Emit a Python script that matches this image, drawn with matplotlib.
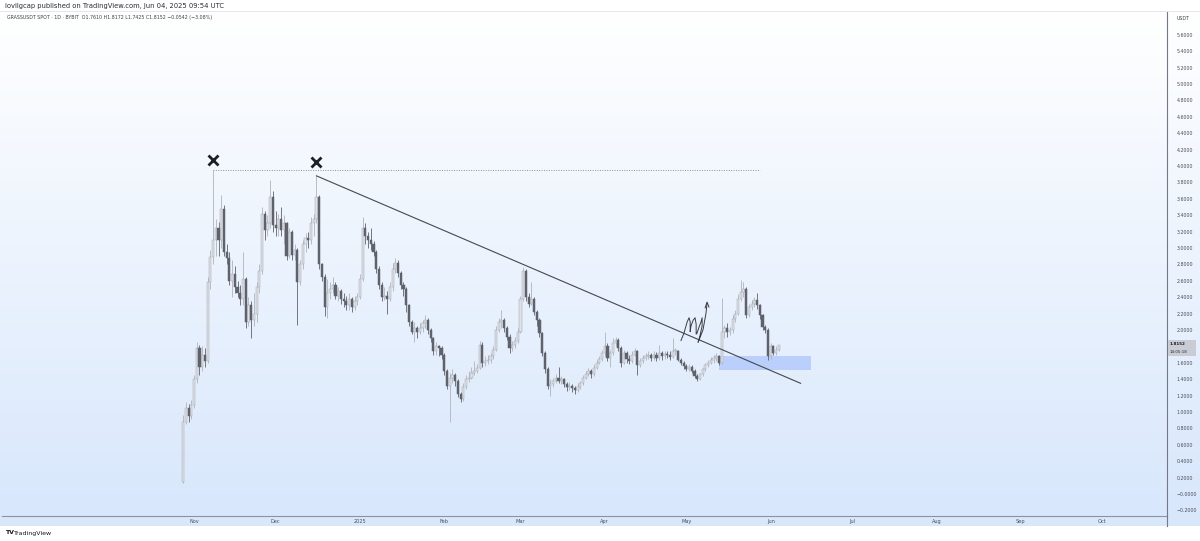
import numpy as np
import pandas as pd
import matplotlib
matplotlib.use("Agg")
import matplotlib.pyplot as plt
import matplotlib.dates as mdates
from matplotlib.patches import Rectangle
from matplotlib.colors import LinearSegmentedColormap

# daily GRASSUSDT candles, Oct 28 2024 -> Jun 04 2025
START_DATE = "2024-10-28"
FIRST_OPEN = 0.15
closes = [
    0.88, 1.05, 0.95, 1.08, 1.40, 1.78, 1.55, 1.70, 1.62, 2.59,
    2.89, 3.10, 3.25, 3.10, 3.48, 2.95, 2.88, 2.60, 2.68, 2.52,
    2.45, 2.38, 2.62, 2.10, 2.30, 2.12, 2.20, 2.52, 2.72, 3.42,
    3.22, 3.30, 3.62, 3.28, 3.25, 3.35, 3.22, 3.30, 2.90, 3.20,
    2.92, 2.98, 2.58, 2.80, 3.05, 3.12, 3.10, 3.30, 3.35, 3.62,
    2.80, 2.65, 2.28, 2.45, 2.50, 2.55, 2.42, 2.48, 2.38, 2.35,
    2.30, 2.38, 2.28, 2.35, 2.40, 2.62, 3.25, 3.15, 3.10, 3.05,
    2.95, 2.75, 2.55, 2.40, 2.42, 2.38, 2.52, 2.75, 2.82, 2.70,
    2.55, 2.50, 2.30, 2.10, 1.97, 2.02, 1.98, 2.03, 2.08, 2.12,
    2.00, 1.90, 1.74, 1.80, 1.78, 1.70, 1.50, 1.32, 1.42, 1.45,
    1.38, 1.22, 1.16, 1.30, 1.40, 1.42, 1.48, 1.50, 1.54, 1.82,
    1.60, 1.62, 1.64, 1.68, 1.76, 2.00, 2.10, 2.12, 2.02, 1.92,
    1.78, 1.82, 1.86, 1.98, 2.38, 2.72, 2.40, 2.32, 2.38, 2.22,
    2.12, 1.96, 1.72, 1.52, 1.32, 1.34, 1.38, 1.42, 1.38, 1.40,
    1.34, 1.30, 1.32, 1.29, 1.27, 1.31, 1.35, 1.42, 1.46, 1.50,
    1.46, 1.54, 1.60, 1.65, 1.72, 1.80, 1.66, 1.72, 1.84, 1.88,
    1.78, 1.60, 1.72, 1.65, 1.62, 1.70, 1.74, 1.57, 1.62, 1.66,
    1.68, 1.70, 1.66, 1.70, 1.66, 1.72, 1.68, 1.71, 1.70, 1.67,
    1.74, 1.75, 1.64, 1.60, 1.56, 1.53, 1.55, 1.50, 1.44, 1.40,
    1.46, 1.52, 1.57, 1.60, 1.63, 1.66, 1.68, 1.60, 1.98, 2.02,
    1.98, 2.00, 2.14, 2.20, 2.38, 2.46, 2.50, 2.18, 2.28, 2.32,
    2.36, 2.30, 2.18, 2.04, 2.00, 1.68, 1.80, 1.72, 1.761, 1.8152,
]
highs = [
    0.96, 1.12, 1.10, 1.15, 1.45, 1.85, 1.82, 1.80, 1.78, 2.65,
    2.98, 3.95, 3.35, 3.32, 3.65, 3.52, 3.05, 2.95, 2.85, 2.78,
    2.60, 2.55, 2.95, 2.65, 2.40, 2.35, 2.45, 2.58, 2.80, 3.50,
    3.45, 3.40, 3.83, 3.70, 3.45, 3.42, 3.50, 3.40, 3.32, 3.25,
    3.22, 3.05, 3.00, 2.85, 3.10, 3.18, 3.20, 3.38, 3.42, 3.88,
    3.65, 2.82, 2.68, 2.62, 2.58, 2.65, 2.58, 2.52, 2.50, 2.45,
    2.42, 2.45, 2.40, 2.42, 2.45, 2.68, 3.38, 3.30, 3.20, 3.25,
    3.08, 2.98, 2.78, 2.58, 2.52, 2.48, 2.58, 2.82, 2.88, 2.85,
    2.72, 2.58, 2.52, 2.32, 2.12, 2.10, 2.05, 2.08, 2.12, 2.18,
    2.15, 2.02, 1.92, 1.85, 1.82, 1.80, 1.72, 1.52, 1.48, 1.52,
    1.48, 1.40, 1.25, 1.35, 1.45, 1.50, 1.55, 1.62, 1.58, 1.86,
    1.85, 1.68, 1.70, 1.72, 1.80, 2.05, 2.15, 2.25, 2.15, 2.05,
    1.95, 1.86, 1.92, 2.02, 2.42, 2.77, 2.75, 2.45, 2.58, 2.40,
    2.25, 2.15, 1.98, 1.75, 1.55, 1.40, 1.42, 1.46, 1.55, 1.44,
    1.42, 1.36, 1.36, 1.34, 1.32, 1.35, 1.38, 1.45, 1.50, 1.54,
    1.52, 1.58, 1.64, 1.68, 1.76, 1.98, 1.84, 1.76, 1.90, 1.92,
    1.90, 1.80, 1.76, 1.74, 1.70, 1.74, 1.78, 1.76, 1.66, 1.70,
    1.72, 1.74, 1.72, 1.74, 1.73, 1.82, 1.75, 1.75, 1.74, 1.74,
    1.90, 1.78, 1.76, 1.66, 1.62, 1.58, 1.58, 1.57, 1.52, 1.46,
    1.48, 1.54, 1.60, 1.64, 1.67, 1.70, 1.72, 1.70, 2.39, 2.06,
    2.08, 2.04, 2.18, 2.25, 2.44, 2.61, 2.58, 2.52, 2.32, 2.36,
    2.40, 2.45, 2.32, 2.20, 2.06, 2.02, 1.84, 1.82, 1.80, 1.8172,
]
lows = [
    0.13, 0.85, 0.88, 0.92, 1.05, 1.35, 1.45, 1.50, 1.55, 1.60,
    2.50, 2.80, 2.90, 2.90, 3.00, 2.90, 2.80, 2.55, 2.40, 2.45,
    2.40, 2.30, 2.30, 2.02, 2.05, 1.90, 2.05, 2.10, 2.45, 2.68,
    3.10, 3.15, 3.25, 3.20, 3.15, 3.15, 3.15, 3.05, 2.85, 2.88,
    2.85, 2.85, 2.06, 2.55, 2.75, 2.95, 3.00, 3.05, 3.15, 3.30,
    2.75, 2.60, 2.17, 2.15, 2.38, 2.45, 2.38, 2.35, 2.32, 2.28,
    2.25, 2.25, 2.22, 2.24, 2.30, 2.38, 2.60, 3.05, 3.00, 2.98,
    2.90, 2.70, 2.50, 2.35, 2.36, 2.20, 2.35, 2.48, 2.70, 2.65,
    2.50, 2.42, 2.22, 2.05, 1.95, 1.85, 1.90, 1.95, 1.98, 2.02,
    1.95, 1.85, 1.70, 1.70, 1.68, 1.65, 1.45, 1.28, 0.88, 1.35,
    1.32, 1.18, 1.12, 1.14, 1.28, 1.36, 1.40, 1.45, 1.48, 1.52,
    1.55, 1.56, 1.58, 1.60, 1.65, 1.74, 1.98, 2.02, 1.98, 1.88,
    1.72, 1.74, 1.78, 1.84, 1.96, 2.35, 2.35, 2.28, 2.30, 2.18,
    2.05, 1.92, 1.68, 1.48, 1.28, 1.20, 1.30, 1.35, 1.35, 1.34,
    1.30, 1.26, 1.27, 1.25, 1.22, 1.25, 1.28, 1.33, 1.40, 1.44,
    1.42, 1.44, 1.52, 1.58, 1.62, 1.68, 1.62, 1.55, 1.70, 1.80,
    1.75, 1.55, 1.58, 1.60, 1.58, 1.60, 1.68, 1.45, 1.55, 1.60,
    1.64, 1.65, 1.62, 1.64, 1.62, 1.64, 1.64, 1.65, 1.66, 1.64,
    1.66, 1.70, 1.62, 1.57, 1.53, 1.50, 1.50, 1.47, 1.42, 1.38,
    1.39, 1.44, 1.50, 1.55, 1.58, 1.60, 1.62, 1.57, 1.58, 1.90,
    1.92, 1.94, 1.96, 2.10, 2.18, 2.35, 2.40, 2.15, 2.16, 2.24,
    2.28, 2.26, 2.14, 2.00, 1.96, 1.64, 1.65, 1.70, 1.70, 1.7425,
]

# drawings on the chart
TREND_START = ("2024-12-16", 3.88)
TREND_END = ("2025-06-12", 1.35)
LEVEL_END = "2025-05-28"
ZONE_DATES = ("2025-05-13", "2025-06-16")
ZONE_PRICES = (1.51, 1.68)
# hand-drawn scribble with an up arrow: (days after Nov 1 2024, price)
scribble = [(179.0, 1.87), (180.1, 1.96), (181.3, 2.10), (182.0, 2.15), (182.4, 2.10),
            (182.4, 1.98), (182.7, 2.05), (183.5, 2.12), (184.2, 2.15), (184.6, 2.07),
            (184.6, 1.95), (184.9, 1.96), (185.7, 2.04), (186.4, 2.10), (186.8, 2.15),
            (186.8, 2.05), (186.0, 1.93), (185.3, 1.85), (187.1, 2.00), (188.2, 2.20),
            (188.6, 2.33)]
arrow_head = [(187.9, 2.27), (188.6, 2.34), (189.3, 2.28)]

month_labels = ["Nov", "Dec", "2025", "Feb", "Mar", "Apr", "May", "Jun", "Jul", "Aug", "Sep", "Oct"]
month_starts = pd.date_range("2024-11-01", periods=12, freq="MS")
price_ticks = np.round(np.arange(-0.2, 5.61, 0.2), 1)

W, H = 1200, 541
fig = plt.figure(figsize=(W / 100, H / 100), dpi=100)
fig.patch.set_facecolor("white")


def fx(px):
    return px / W


def fy(py):
    return 1 - py / H


# background gradient (chart + price scale)
bg = fig.add_axes([0, fy(516), 1, fy(12) - fy(516)], zorder=0)
grad = np.linspace(0, 1, 256).reshape(-1, 1)
cmap = LinearSegmentedColormap.from_list("tv", ["#ffffff", "#d8e7fc"])
bg.imshow(grad, aspect="auto", cmap=cmap, extent=[0, 1, 0, 1], origin="upper")
bg.axis("off")

# time scale band
fig.patches.append(Rectangle((0, fy(526)), 1, fy(516) - fy(526), transform=fig.transFigure,
                             facecolor="#d9e7fb", edgecolor="none", zorder=1))

ax = fig.add_axes([fx(2), fy(516), fx(1165), fy(12) - fy(516)], zorder=2)
ax.set_facecolor("none")

dates = pd.date_range(START_DATE, periods=len(closes), freq="D")
x = mdates.date2num(dates)
c = np.array(closes)
o = np.array([FIRST_OPEN] + closes[:-1])
h = np.array(highs)
l = np.array(lows)
up = c >= o

bull_body, bull_edge = "#dfe1e6", "#a3a7b0"
bear_body = "#5f626b"

ax.vlines(x[up], l[up], h[up], color="#b0b3bb", lw=0.6, zorder=3)
ax.vlines(x[~up], l[~up], h[~up], color=bear_body, lw=0.6, zorder=3)
bh = np.maximum(np.abs(c - o), 0.012)
ax.bar(x[up], bh[up], bottom=np.minimum(o, c)[up], width=0.8,
       color=bull_body, edgecolor=bull_edge, lw=0.35, zorder=4)
ax.bar(x[~up], bh[~up], bottom=np.minimum(o, c)[~up], width=0.8,
       color=bear_body, edgecolor=bear_body, lw=0.35, zorder=4)

nov1 = mdates.date2num(pd.Timestamp("2024-11-01"))
ax.set_xlim(nov1 - 70.6, nov1 + 357.7)
ax.set_ylim(-0.268, 5.878)

# top resistance level with the two X marks
i_top = int(np.argmax(h))
ax.hlines(h[i_top], x[i_top], mdates.date2num(pd.Timestamp(LEVEL_END)),
          color="#8c8f96", lw=0.7, linestyles=(0, (1, 1.5)), zorder=5)
t0 = mdates.date2num(pd.Timestamp(TREND_START[0]))
t1 = mdates.date2num(pd.Timestamp(TREND_END[0]))
i_second = int(np.where(x == t0)[0][0])
ax.plot([x[i_top], x[i_second]], [h[i_top] + 0.12, h[i_second] + 0.17], ls="none",
        marker="x", ms=7, mew=2, color="#1e1f24", zorder=6)

# descending trend line
ax.plot([t0, t1], [TREND_START[1], TREND_END[1]], color="#45484f", lw=0.8, zorder=5)

# demand zone
z0, z1 = [mdates.date2num(pd.Timestamp(d)) for d in ZONE_DATES]
ax.add_patch(Rectangle((z0, ZONE_PRICES[0]), z1 - z0, ZONE_PRICES[1] - ZONE_PRICES[0],
                       facecolor="#2962ff", alpha=0.22, edgecolor="none", zorder=2))

# scribble
sx = [nov1 + p[0] for p in scribble]
sy = [p[1] for p in scribble]
ax.plot(sx, sy, color="#3a3c42", lw=0.7, zorder=6, solid_capstyle="round")
ax.plot([nov1 + p[0] for p in arrow_head], [p[1] for p in arrow_head],
        color="#3a3c42", lw=0.7, zorder=6)

# axes styling
for side in ["top", "left"]:
    ax.spines[side].set_visible(False)
ax.spines["right"].set_color("#737884")
ax.spines["right"].set_linewidth(0.8)
ax.spines["bottom"].set_color("#8a93a3")
ax.spines["bottom"].set_linewidth(0.8)

ax.set_xticks(mdates.date2num(month_starts))
ax.set_xticklabels(month_labels)
ax.tick_params(axis="x", length=0, pad=2.5, labelsize=3.6, labelcolor="#4a4d55")
ax.yaxis.tick_right()
ax.set_yticks(price_ticks)
ax.set_yticklabels([("−" if v <= 0 else "") + f"{abs(v):.4f}" for v in price_ticks])
ax.tick_params(axis="y", length=0, pad=7, labelsize=3.4, labelcolor="#4a4d55")

# price axis extends over time band
fig.add_artist(plt.Line2D([fx(1167), fx(1167)], [fy(526), fy(516)], color="#737884",
                          lw=0.8, transform=fig.transFigure, zorder=3))
fig.add_artist(plt.Line2D([0, 1], [fy(11), fy(11)], color="#dfe3ea", lw=0.6,
                          transform=fig.transFigure, zorder=3))

# texts
fig.text(fx(5), fy(6), "lovilgcap published on TradingView.com, Jun 04, 2025 09:54 UTC",
         fontsize=4.9, color="#2a2c31", va="center", ha="left")
fig.text(fx(7), fy(17), "GRASSUSDT SPOT · 1D · BYBIT  O1.7610 H1.8172 L1.7425 C1.8152 −0.0542 (−3.08%)",
         fontsize=3.4, color="#3d4048", va="center", ha="left", zorder=5)
fig.text(fx(1183), fy(19), "USDT", fontsize=3.4, color="#3d4048", va="center", ha="center", zorder=5)
fig.patches.append(Rectangle((fx(1168), fy(356)), fx(28), fy(340) - fy(356), transform=fig.transFigure,
                             facecolor="#c9ccd4", edgecolor="none", zorder=4))
fig.text(fx(1170), fy(343.8), f"{closes[-1]:.4f}", fontsize=3.0, color="#1e1f24",
         fontweight="bold", va="center", ha="left", zorder=5)
fig.text(fx(1170), fy(351.8), "14:05:18", fontsize=2.9, color="#2a2c31", va="center", ha="left", zorder=5)
fig.text(fx(5), fy(533), "TV", fontsize=4.5, fontweight="bold", color="#131722", va="center", ha="left")
fig.text(fx(14), fy(533), "TradingView", fontsize=4.5, color="#131722", va="center", ha="left")

fig.savefig("out.png", dpi=100)
